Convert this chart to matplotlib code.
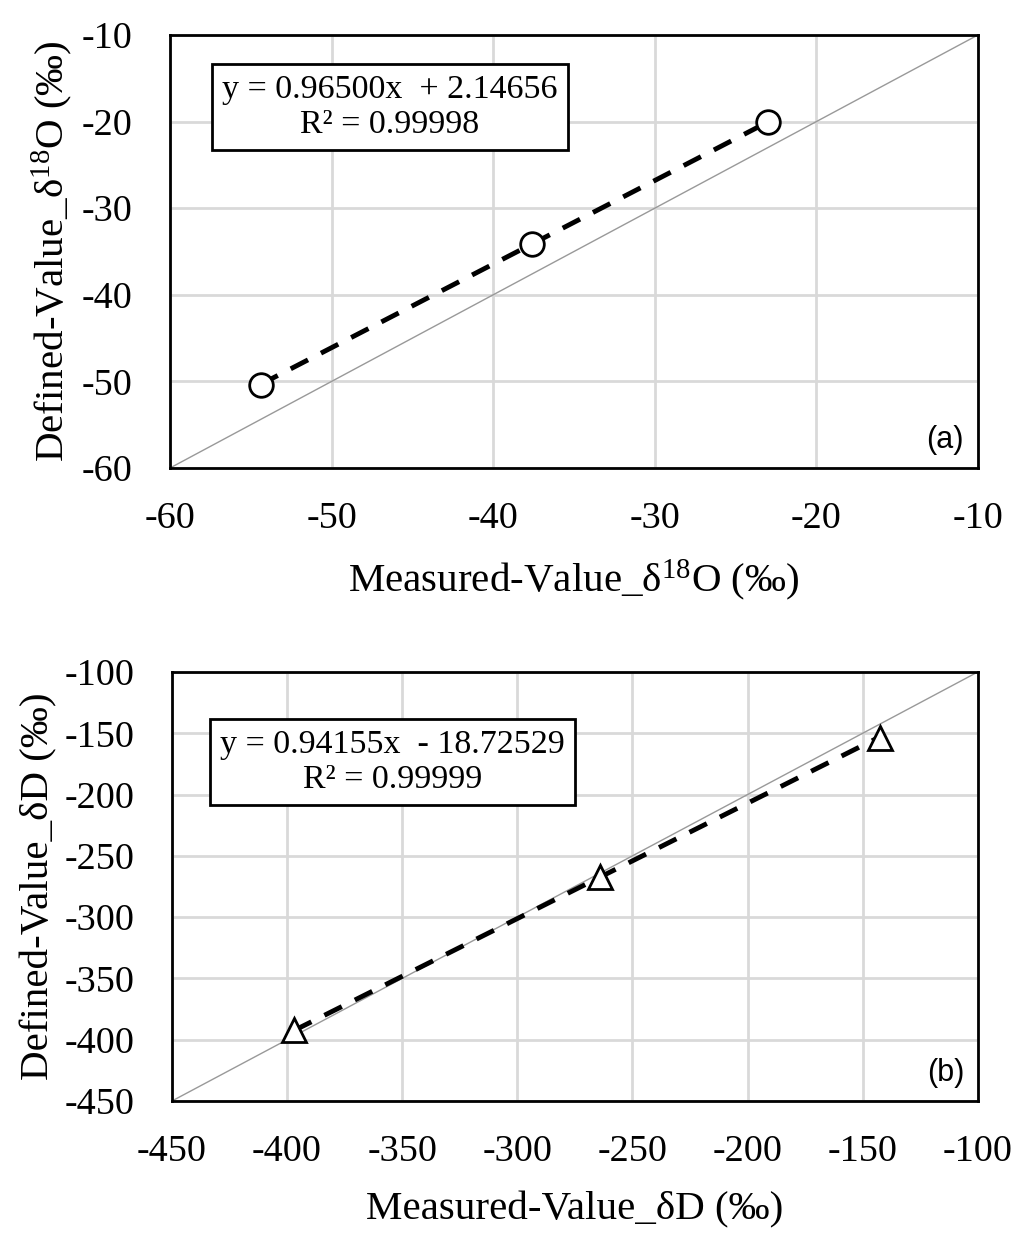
import matplotlib
matplotlib.use("Agg")
import matplotlib.pyplot as plt
import numpy as np

plt.rcParams['font.family'] = ['Liberation Serif', 'DejaVu Serif']
plt.rcParams['mathtext.fontset'] = 'custom'
plt.rcParams['mathtext.rm'] = 'Liberation Serif'
plt.rcParams['mathtext.it'] = 'Liberation Serif'
plt.rcParams['axes.unicode_minus'] = False

# (a) oxygen
o_measured = [-54.4, -37.6, -23.0]
o_defined = [-50.4, -34.1, -20.0]
o_slope, o_icpt = 0.96500, 2.14656
o_eq = "y = 0.96500x  + 2.14656\nR² = 0.99998"
o_ticks = [-60, -50, -40, -30, -20, -10]

# (b) hydrogen
d_measured = [-397.0, -264.2, -142.6]
d_defined = [-392.0, -267.2, -153.8]
d_slope, d_icpt = 0.94155, -18.72529
d_eq = "y = 0.94155x  - 18.72529\nR² = 0.99999"
d_ticks = [-450, -400, -350, -300, -250, -200, -150, -100]

fig = plt.figure(figsize=(10.33, 12.47), dpi=100)
ax1 = fig.add_axes([0.1646, 0.6247, 0.782, 0.3472])
ax2 = fig.add_axes([0.1665, 0.1171, 0.780, 0.3440])


def panel(ax, xm, yd, slope, icpt, eq, ticks, marker, ms, tag, xlab, ylab, box_xy):
    lo, hi = ticks[0], ticks[-1]
    ax.set_xlim(lo, hi)
    ax.set_ylim(lo, hi)
    ax.set_xticks(ticks)
    ax.set_yticks(ticks)
    ax.grid(True, color="#d9d9d9", linewidth=2)
    ax.set_axisbelow(True)
    ax.plot([lo, hi], [lo, hi], color="#999999", linewidth=1.0, zorder=2)
    fx = np.array([min(xm), max(xm)])
    ax.plot(fx, slope * fx + icpt, color="black", linestyle=(0, (4.0, 3.0)),
            linewidth=3.5, zorder=3)
    ax.plot(xm, yd, linestyle="none", marker=marker, markersize=ms,
            markerfacecolor="white", markeredgecolor="black",
            markeredgewidth=2.0, zorder=4)
    for s in ax.spines.values():
        s.set_linewidth(2)
    ax.tick_params(length=0, labelsize=27.5)
    ax.tick_params(axis="x", pad=24)
    ax.tick_params(axis="y", pad=27)
    ax.set_xlabel(xlab, fontsize=29.5, labelpad=16)
    ax.set_ylabel(ylab, fontsize=29.5, labelpad=5)
    ax.text(box_xy[0], box_xy[1], eq, transform=ax.transAxes, fontsize=24.5,
            ha="center", va="center", linespacing=1.2,
            bbox=dict(boxstyle="square,pad=0.3", facecolor="white",
                      edgecolor="black", linewidth=2))
    ax.text(0.983, 0.03, tag, transform=ax.transAxes, fontsize=22,
            family="Liberation Sans", ha="right", va="bottom")


panel(ax1, o_measured, o_defined, o_slope, o_icpt, o_eq, o_ticks, "o", 17,
      "(a)", "Measured-Value_δ$^{18}$O (‰)", "Defined-Value_δ$^{18}$O (‰)", (0.272, 0.834))
panel(ax2, d_measured, d_defined, d_slope, d_icpt, d_eq, d_ticks, "^", 17,
      "(b)", "Measured-Value_δD (‰)", "Defined-Value_δD (‰)", (0.274, 0.790))

fig.savefig("out.png", dpi=100)
